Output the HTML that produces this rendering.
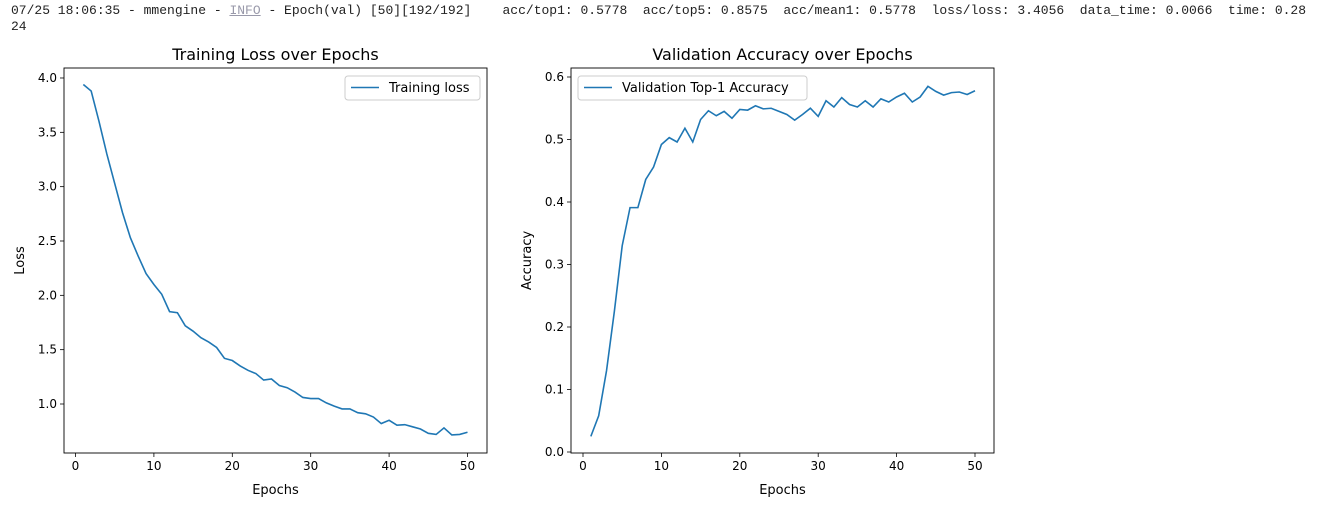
<!DOCTYPE html>
<html><head><meta charset="utf-8">
<style>
body{margin:0;width:1317px;height:507px;background:#fff;overflow:hidden;position:relative}
#log{position:absolute;left:11px;top:3px;font:13px/16px "Liberation Mono",monospace;color:#222;white-space:pre}
#log u{color:#99a}
svg{position:absolute;left:0;top:0}
text{font-family:"DejaVu Sans","Liberation Sans",sans-serif;fill:#000}
</style></head><body>
<div id="log">07/25 18:06:35 - mmengine - <u>INFO</u> - Epoch(val) [50][192/192]    acc/top1: 0.5778  acc/top5: 0.8575  acc/mean1: 0.5778  loss/loss: 3.4056  data_time: 0.0066  time: 0.28
24</div>
<svg id="chart" width="1317" height="507"></svg>
<script>
const epochs=[];for(let i=1;i<=50;i++)epochs.push(i);
const lossValues=[3.94,3.88,3.6,3.3,3.03,2.76,2.53,2.36,2.2,2.1,2.01,1.85,1.84,1.72,1.67,1.61,1.57,1.52,1.42,1.40,1.35,1.31,1.28,1.22,1.23,1.17,1.15,1.11,1.06,1.05,1.05,1.01,0.98,0.955,0.955,0.92,0.91,0.88,0.82,0.85,0.805,0.81,0.79,0.77,0.73,0.72,0.78,0.715,0.72,0.74];
const accValues=[0.025,0.058,0.13,0.225,0.33,0.391,0.391,0.436,0.456,0.492,0.503,0.496,0.518,0.496,0.532,0.546,0.538,0.545,0.534,0.548,0.547,0.554,0.549,0.55,0.545,0.54,0.531,0.54,0.55,0.537,0.562,0.552,0.567,0.556,0.552,0.562,0.552,0.565,0.56,0.568,0.574,0.56,0.568,0.585,0.577,0.571,0.575,0.576,0.572,0.578];
const xTicks=[0,10,20,30,40,50];
const lossTicks=[1.0,1.5,2.0,2.5,3.0,3.5,4.0];
const accTicks=[0.0,0.1,0.2,0.3,0.4,0.5,0.6];
const svg=document.getElementById('chart');const NS='http://www.w3.org/2000/svg';
function mk(t,a,p){const e=document.createElementNS(NS,t);for(const k in a)e.setAttribute(k,a[k]);(p||svg).appendChild(e);return e;}
function panel(o){
  const g=mk('g',{});
  
  
  const X=v=>o.x0+(v-o.xmin)*o.xs, Y=v=>o.y0-(v-o.ymin)*o.ys;
  xTicks.forEach(t=>{const x=X(t);mk('line',{x1:x,x2:x,y1:o.B,y2:o.B+4,stroke:'#000','stroke-width':0.8},g);
    const tx=mk('text',{x:x,y:o.B+17,'text-anchor':'middle','font-size':12},g);tx.textContent=t;
    });
  o.yt.forEach(t=>{const y=Y(t);mk('line',{x1:o.L-4,x2:o.L,y1:y,y2:y,stroke:'#000','stroke-width':0.8},g);
    const tx=mk('text',{x:o.L-7,y:y+4,'text-anchor':'end','font-size':12},g);tx.textContent=t.toFixed(1);
    });
  const pts=epochs.map((e,i)=>X(e)+','+Y(o.vals[i])).join(' ');
  const pl=mk('polyline',{points:pts,fill:'none',stroke:'#1f77b4','stroke-width':1.6},g);
  
  mk('rect',{x:o.L,y:o.T,width:o.R-o.L,height:o.B-o.T,fill:'none',stroke:'#000','stroke-width':0.9},g);
  const ti=mk('text',{x:(o.L+o.R)/2,y:60,'text-anchor':'middle','font-size':16},g);ti.textContent=o.title;
  
  const xl=mk('text',{x:(o.L+o.R)/2,y:494,'text-anchor':'middle','font-size':13},g);xl.textContent='Epochs';
  
  const yl=mk('text',{x:0,y:0,'text-anchor':'middle','font-size':13,transform:`translate(${o.ylx},${(o.T+o.B)/2}) rotate(-90)`},g);yl.textContent=o.ylabel;
  
  const lg=mk('g',{},g);
  
  mk('rect',{x:o.lgx,y:76,width:o.lgw,height:24,rx:3,fill:'#fff',stroke:'#ccc'},lg);
  mk('line',{x1:o.lgx+6,x2:o.lgx+34,y1:87.5,y2:87.5,stroke:'#1f77b4','stroke-width':1.6},lg);
  const lt=mk('text',{x:o.lgx+44,y:92,'font-size':13},lg);lt.textContent=o.lgText;
}
panel({name:'training-loss-chart',L:64,R:487,T:68,B:453,x0:75.5,xmin:0,xs:7.84,y0:404,ymin:1,ys:108.67,yt:lossTicks,vals:lossValues,
  title:'Training Loss over Epochs',ylabel:'Loss',ylx:24,lgx:345,lgw:135,lgText:'Training loss',lineName:'training-loss-line'});
panel({name:'validation-accuracy-chart',L:571,R:994,T:68,B:453,x0:583,xmin:0,xs:7.84,y0:452,ymin:0,ys:625,yt:accTicks,vals:accValues,
  title:'Validation Accuracy over Epochs',ylabel:'Accuracy',ylx:531,lgx:578,lgw:229,lgText:'Validation Top-1 Accuracy',lineName:'validation-accuracy-line'});
</script>
</body></html>
